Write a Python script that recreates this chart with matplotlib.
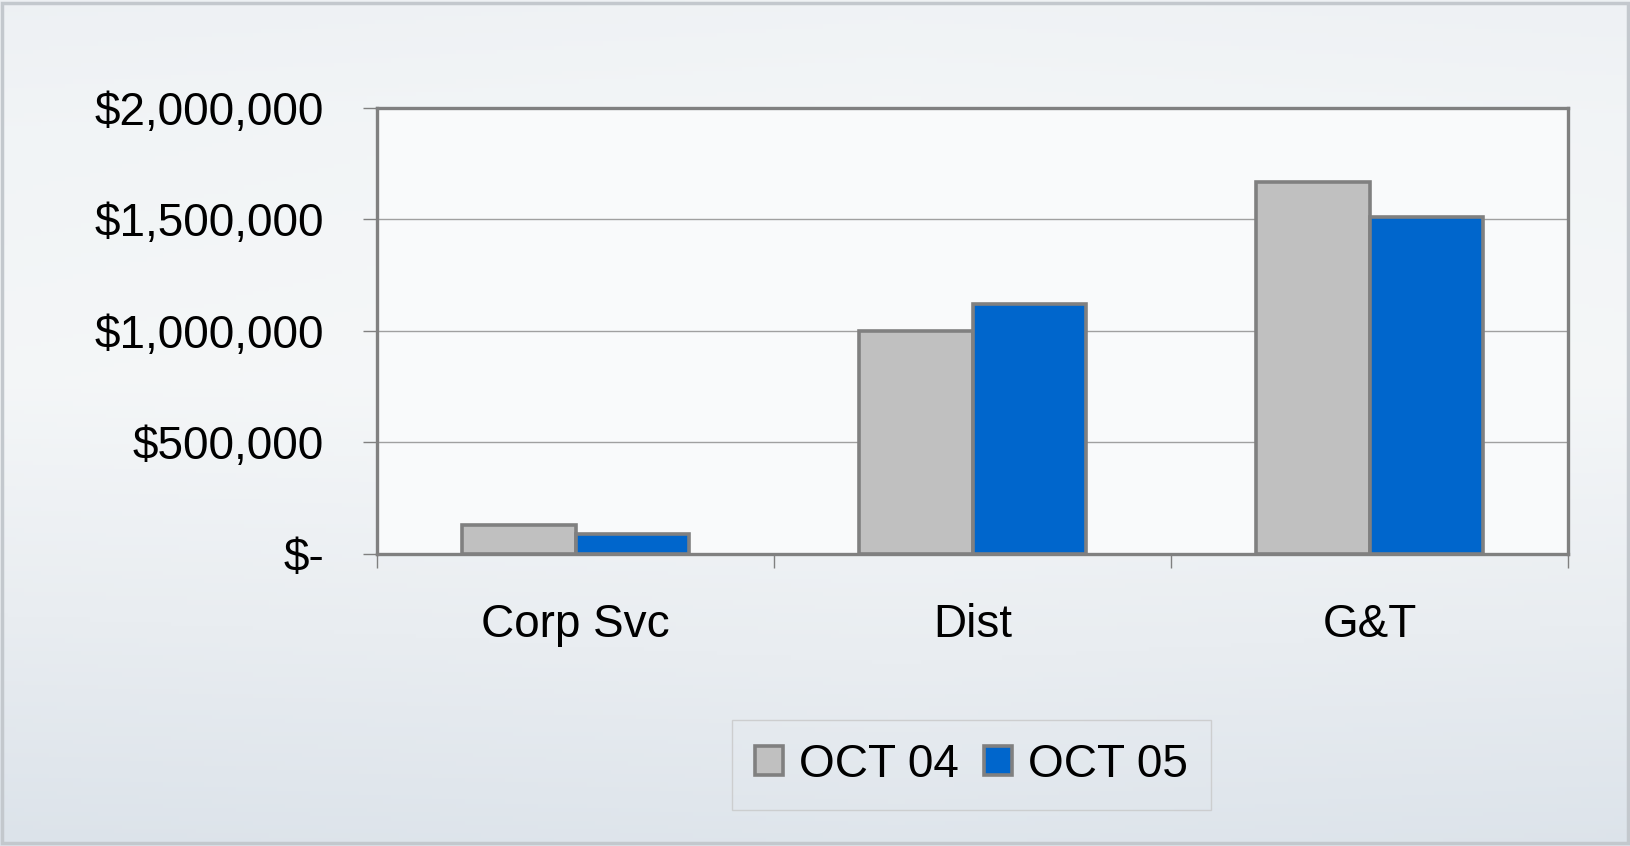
import numpy as np
import matplotlib
matplotlib.use('Agg')
import matplotlib.pyplot as plt
from matplotlib.ticker import FuncFormatter, FixedLocator
from matplotlib.colors import LinearSegmentedColormap
from matplotlib.patches import Rectangle

plt.rcParams['font.family'] = ['Liberation Sans', 'DejaVu Sans']

# datos
categories = ['Corp Svc', 'Dist', 'G&T']
series_names = ['OCT 04', 'OCT 05']
oct04 = [128000, 1000000, 1668000]
oct05 = [90000, 1120000, 1512000]
yticks = [0, 500000, 1000000, 1500000, 2000000]

fig = plt.figure(figsize=(16.3, 8.46), dpi=100)

# fondo con degradado
bg = fig.add_axes([0, 0, 1, 1], zorder=-10)
yy, xx = np.mgrid[0:1:200j, 0:1:200j]
vert = np.interp(yy, [0, 0.15, 0.45, 0.75, 1.0], [0.25, 0.1, 0.0, 0.45, 0.8])
horiz = 0.15 * np.abs(xx - 0.55)
cmap_bg = LinearSegmentedColormap.from_list('bg', ['#f6f8f9', '#e9edf1', '#d8e0e8'])
bg.imshow(vert + horiz, cmap=cmap_bg, vmin=0, vmax=1, aspect='auto', extent=[0, 1, 0, 1])
bg.set_axis_off()
fig.patches.append(Rectangle((0.0015, 0.003), 0.997, 0.994, transform=fig.transFigure,
                             fill=False, edgecolor='#c3c8cd', linewidth=2.5))

ax = fig.add_axes([0.2313, 0.3452, 0.7307, 0.5272])
ax.set_facecolor('#f9fafb')

x = np.arange(len(categories))
w = 0.2857
b1 = ax.bar(x - w / 2, oct04, w, color='#c0c0c0', edgecolor='#808080', linewidth=2.6,
            label=series_names[0], zorder=3)
b2 = ax.bar(x + w / 2, oct05, w, color='#0066cc', edgecolor='#808080', linewidth=2.6,
            label=series_names[1], zorder=3)

ax.set_ylim(0, 2000000)
ax.set_xlim(-0.5, len(categories) - 0.5)
ax.set_yticks(yticks)


def money(v, pos):
    if v == 0:
        return '$-'
    return '${:,.0f}'.format(v)


ax.yaxis.set_major_formatter(FuncFormatter(money))
ax.yaxis.grid(True, color='#a0a0a0', linewidth=1.0, zorder=0)
ax.set_axisbelow(True)

ax.set_xticks(x)
ax.set_xticklabels(categories)
ax.xaxis.set_minor_locator(FixedLocator(np.arange(-0.5, len(categories), 1.0)))
ax.tick_params(axis='x', which='major', length=0, pad=35, labelsize=33)
ax.tick_params(axis='x', which='minor', length=10, width=1.0, color='#808080', direction='out')
ax.tick_params(axis='y', length=10, width=1.0, color='#808080', pad=28, labelsize=33)

for s in ax.spines.values():
    s.set_color('#808080')
    s.set_linewidth(2.4)

leg = fig.legend(handles=[b1, b2], loc='center', bbox_to_anchor=(0.596, 0.096), ncol=2,
                 fontsize=33, frameon=True, fancybox=False, handlelength=0.6,
                 handleheight=0.6, handletextpad=0.36, columnspacing=0.55,
                 borderpad=0.5, borderaxespad=0)
leg.get_frame().set_edgecolor('#c8c8c8')
leg.get_frame().set_facecolor('none')
leg.get_frame().set_linewidth(1.0)

fig.savefig('out.png', dpi=100)
